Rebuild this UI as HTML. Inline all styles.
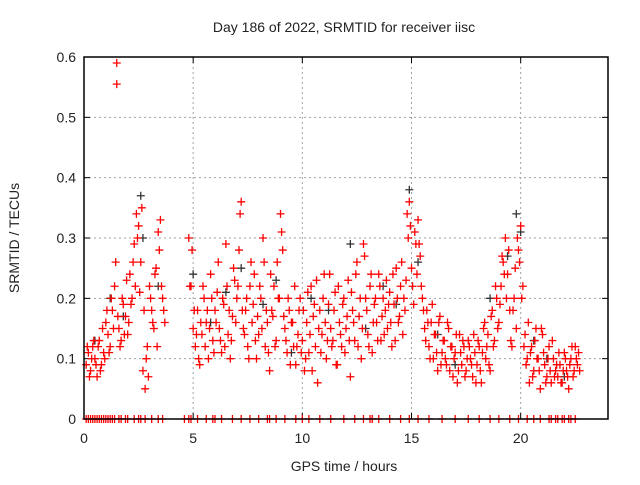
<!DOCTYPE html>
<html><head><meta charset="utf-8"><style>
body{margin:0;background:#fff}
svg text{font-family:"Liberation Sans",sans-serif;font-size:14px;fill:#222}
</style></head><body>
<svg id="chart" width="640" height="480" viewBox="0 0 640 480" xmlns="http://www.w3.org/2000/svg">
<rect width="640" height="480" fill="#fff"/>
<g id="grid"></g>
<g id="axes"></g>
<g id="zeros"></g>
<g id="black"></g>
<g id="red"></g>
<rect x="84" y="57" width="524" height="362" fill="none" stroke="#000" stroke-width="1.5"/>
<text x="344" y="32" text-anchor="middle">Day 186 of 2022, SRMTID for receiver iisc</text>
<text x="344" y="471" text-anchor="middle">GPS time / hours</text>
<text x="19" y="238" text-anchor="middle" transform="rotate(-90 19 238)">SRMTID / TECUs</text>
</svg>
<script>
const xTicks=[0,5,10,15,20];
const yTicks=[0,0.1,0.2,0.3,0.4,0.5,0.6];
const yTickLabels=["0","0.1","0.2","0.3","0.4","0.5","0.6"];
const redTimes=[0.1,0.2,0.3,0.4,0.5,0.6,0.7,0.8,0.9,1.0,1.1,1.2,1.3,1.4,1.5,1.5,1.6,1.7,1.8,1.9,2.0,2.1,2.2,2.3,2.4,2.5,2.6,2.7,2.8,2.9,3.0,3.1,3.2,3.3,3.4,3.5,3.6,3.7,
4.8,4.9,5.0,5.1,5.2,5.3,5.4,5.5,5.6,5.7,5.8,5.9,6.0,6.1,6.2,6.3,6.4,6.5,6.6,6.7,6.8,6.9,7.0,7.1,7.2,7.3,7.4,7.5,7.6,7.7,7.8,7.9,8.0,8.1,8.2,8.3,8.4,8.5,8.6,8.7,8.8,8.9,9.0,9.1,9.2,9.3,9.4,9.5,9.6,9.7,9.8,9.9,
10.0,10.1,10.2,10.3,10.4,10.5,10.6,10.7,10.8,10.9,11.0,11.1,11.2,11.3,11.4,11.5,11.6,11.7,11.8,11.9,12.0,12.1,12.2,12.3,12.4,12.5,12.6,12.7,12.8,12.9,13.0,13.1,13.2,13.3,13.4,13.5,13.6,13.7,13.8,13.9,
14.0,14.1,14.2,14.3,14.4,14.5,14.6,14.7,14.8,14.9,15.0,15.1,15.2,15.3,15.4,15.5,15.6,15.7,15.8,15.9,16.0,16.1,16.2,16.3,16.4,16.5,16.6,16.7,16.8,16.9,17.0,17.1,17.2,17.3,17.4,17.5,17.6,17.7,17.8,17.9,
18.0,18.1,18.2,18.3,18.4,18.5,18.6,18.7,18.8,18.9,19.0,19.1,19.2,19.3,19.4,19.5,19.6,19.7,19.8,19.9,20.0,20.1,20.2,20.3,20.4,20.5,20.6,20.7,20.8,20.9,21.0,21.1,21.2,21.3,21.4,21.5,21.6,21.7,21.8,21.9,22.0,22.1,22.2,22.3,22.4,22.5,22.6,22.7];
const redValues=[0.09,0.11,0.08,0.12,0.10,0.07,0.13,0.09,0.11,0.16,0.14,0.12,0.18,0.22,0.59,0.555,0.15,0.13,0.19,0.17,0.14,0.24,0.2,0.29,0.34,0.32,0.26,0.08,0.05,0.12,0.22,0.18,0.15,0.25,0.31,0.33,0.2,0.16,
0.3,0.22,0.15,0.12,0.18,0.09,0.14,0.2,0.16,0.1,0.24,0.13,0.18,0.21,0.15,0.11,0.19,0.29,0.14,0.1,0.17,0.23,0.2,0.28,0.36,0.15,0.18,0.12,0.22,0.16,0.24,0.1,0.14,0.2,0.3,0.12,0.16,0.08,0.18,0.22,0.13,0.2,0.34,0.28,0.15,0.11,0.18,0.16,0.12,0.09,0.14,0.2,
0.13,0.08,0.16,0.11,0.22,0.17,0.12,0.06,0.18,0.14,0.24,0.1,0.19,0.15,0.13,0.21,0.09,0.16,0.12,0.2,0.15,0.23,0.07,0.18,0.13,0.26,0.17,0.1,0.29,0.2,0.14,0.22,0.11,0.19,0.16,0.24,0.13,0.2,0.18,0.15,
0.21,0.12,0.19,0.25,0.16,0.22,0.14,0.18,0.34,0.36,0.25,0.19,0.29,0.33,0.27,0.2,0.15,0.18,0.12,0.16,0.1,0.14,0.08,0.17,0.11,0.13,0.09,0.15,0.12,0.07,0.11,0.06,0.14,0.09,0.12,0.08,0.13,0.1,0.07,0.11,
0.09,0.12,0.06,0.15,0.1,0.14,0.08,0.18,0.13,0.2,0.16,0.22,0.26,0.3,0.24,0.18,0.12,0.2,0.15,0.28,0.32,0.22,0.14,0.1,0.06,0.12,0.08,0.15,0.1,0.05,0.14,0.09,0.07,0.12,0.06,0.1,0.08,0.07,0.09,0.06,0.11,0.08,0.05,0.1,0.07,0.12,0.09,0.08];
const redTimes2=[0.15,0.25,0.35,0.45,0.55,0.65,0.75,0.85,0.95,1.05,1.15,1.25,1.35,1.45,1.55,1.65,1.75,1.85,1.95,2.05,2.15,2.25,2.35,2.45,2.55,2.65,2.75,2.85,2.95,3.05,3.15,3.25,3.35,3.45,3.55,3.65,
4.85,4.95,5.05,5.15,5.25,5.35,5.45,5.55,5.65,5.75,5.85,5.95,6.05,6.15,6.25,6.35,6.45,6.55,6.65,6.75,6.85,6.95,7.05,7.15,7.25,7.35,7.45,7.55,7.65,7.75,7.85,7.95,8.05,8.15,8.25,8.35,8.45,8.55,8.65,8.75,8.85,8.95,9.05,9.15,9.25,9.35,9.45,9.55,9.65,9.75,9.85,9.95,
10.05,10.15,10.25,10.35,10.45,10.55,10.65,10.75,10.85,10.95,11.05,11.15,11.25,11.35,11.45,11.55,11.65,11.75,11.85,11.95,12.05,12.15,12.25,12.35,12.45,12.55,12.65,12.75,12.85,12.95,13.05,13.15,13.25,13.35,13.45,13.55,13.65,13.75,13.85,13.95,
14.05,14.15,14.25,14.35,14.45,14.55,14.65,14.75,14.85,14.95,15.05,15.15,15.25,15.35,15.45,15.55,15.65,15.75,15.85,15.95,16.05,16.15,16.25,16.35,16.45,16.55,16.65,16.75,16.85,16.95,17.05,17.15,17.25,17.35,17.45,17.55,17.65,17.75,17.85,17.95,
18.05,18.15,18.25,18.35,18.45,18.55,18.65,18.75,18.85,18.95,19.05,19.15,19.25,19.35,19.45,19.55,19.65,19.75,19.85,19.95,20.05,20.15,20.25,20.35,20.45,20.55,20.65,20.75,20.85,20.95,21.05,21.15,21.25,21.35,21.45,21.55,21.65,21.75,21.85,21.95,22.05,22.15,22.25,22.35,22.45,22.55,22.65];
const redValues2=[0.12,0.07,0.1,0.13,0.09,0.12,0.08,0.15,0.1,0.18,0.11,0.2,0.15,0.26,0.17,0.12,0.2,0.14,0.23,0.16,0.19,0.26,0.22,0.3,0.21,0.35,0.18,0.1,0.07,0.2,0.16,0.24,0.12,0.28,0.22,0.18,
0.22,0.28,0.18,0.14,0.1,0.16,0.22,0.12,0.18,0.15,0.2,0.11,0.16,0.26,0.13,0.2,0.12,0.22,0.18,0.13,0.25,0.16,0.22,0.34,0.18,0.14,0.2,0.1,0.26,0.19,0.13,0.17,0.22,0.15,0.26,0.18,0.11,0.24,0.17,0.12,0.26,0.2,0.31,0.17,0.13,0.2,0.09,0.16,0.22,0.12,0.18,0.11,
0.18,0.1,0.21,0.14,0.08,0.19,0.23,0.15,0.11,0.2,0.16,0.13,0.24,0.12,0.18,0.09,0.22,0.14,0.19,0.11,0.17,0.13,0.21,0.16,0.24,0.12,0.2,0.15,0.27,0.18,0.12,0.24,0.16,0.2,0.13,0.22,0.17,0.14,0.23,0.19,
0.16,0.24,0.13,0.2,0.17,0.26,0.2,0.23,0.3,0.32,0.22,0.31,0.24,0.29,0.22,0.18,0.13,0.16,0.1,0.19,0.14,0.11,0.16,0.09,0.13,0.1,0.16,0.08,0.12,0.1,0.14,0.08,0.11,0.13,0.07,0.1,0.12,0.09,0.14,0.06,
0.13,0.08,0.11,0.16,0.12,0.09,0.17,0.12,0.22,0.15,0.19,0.27,0.24,0.2,0.28,0.13,0.18,0.25,0.3,0.26,0.2,0.12,0.09,0.16,0.11,0.07,0.13,0.1,0.08,0.15,0.11,0.06,0.1,0.08,0.13,0.07,0.09,0.11,0.06,0.08,0.1,0.07,0.09,0.12,0.08,0.1,0.11];
const blackTimes=[0.5,1.2,1.8,2.6,2.7,3.4,5.0,5.8,6.5,7.2,8.2,8.8,9.5,10.4,11.2,12.2,12.9,13.7,14.3,14.9,15.3,16.2,17.0,18.6,19.4,19.8,20.0,20.6,21.2,22.0];
const blackValues=[0.13,0.2,0.17,0.37,0.3,0.22,0.24,0.16,0.21,0.25,0.19,0.23,0.11,0.2,0.18,0.29,0.15,0.22,0.19,0.38,0.26,0.14,0.09,0.2,0.27,0.34,0.31,0.13,0.1,0.07];
const zeroTimes=[0.1,0.2,0.3,0.4,0.5,0.6,0.7,0.8,0.9,1.0,1.1,1.2,1.3,1.4,1.6,1.7,1.9,2.0,2.3,2.5,2.6,2.8,3.1,3.4,3.6,4.6,4.8,4.9,5.2,5.6,5.9,6.0,6.3,6.8,7.2,7.6,8.0,8.4,8.5,8.8,9.2,9.7,10.0,10.3,10.8,11.3,11.9,12.4,12.8,13.1,13.2,13.5,14.0,14.5,14.9,15.3,15.8,16.4,17.0,17.6,18.1,18.6,19.0,19.5,19.9,20.3,20.6,20.9,21.3,21.4,21.6,21.7,21.9,22.0,22.2,22.3,22.5];
const ns='http://www.w3.org/2000/svg';
const X0=84,X1=608,Y0=419,Y1=57,XMAX=24,YMAX=0.6;
function sx(t){return X0+(X1-X0)*t/XMAX}
function sy(v){return Y0-(Y0-Y1)*v/YMAX}
function mk(tag,attrs,parent){const e=document.createElementNS(ns,tag);for(const k in attrs)e.setAttribute(k,attrs[k]);parent.appendChild(e);return e}
const grid=document.getElementById('grid'),axes=document.getElementById('axes');
xTicks.forEach(t=>{
 const l=mk('line',{x1:sx(t),x2:sx(t),y1:Y1,y2:Y0,stroke:'#a0a0a0','stroke-dasharray':'2,3'},grid);
 
 
 mk('line',{x1:sx(t),x2:sx(t),y1:Y0,y2:Y0-6,stroke:'#000'},axes);
 mk('line',{x1:sx(t),x2:sx(t),y1:Y1,y2:Y1+6,stroke:'#000'},axes);
 const tx=mk('text',{x:sx(t),y:Y0+24,'text-anchor':'middle'},axes);tx.textContent=t;
 
 
});
yTicks.forEach((v,i)=>{
 const l=mk('line',{x1:X0,x2:X1,y1:sy(v),y2:sy(v),stroke:'#a0a0a0','stroke-dasharray':'2,3'},grid);
 
 
 mk('line',{x1:X0,x2:X0+6,y1:sy(v),y2:sy(v),stroke:'#000'},axes);
 mk('line',{x1:X1,x2:X1-6,y1:sy(v),y2:sy(v),stroke:'#000'},axes);
 const tx=mk('text',{x:X0-8,y:sy(v)+5,'text-anchor':'end'},axes);tx.textContent=yTickLabels[i];
 
 
});
function plus(g,t,v,c){
 const x=sx(t),y=sy(v);
 return mk('path',{d:`M${x-4} ${y}H${x+4}M${x} ${y-4}V${y+4}`,stroke:c,'stroke-width':1.3,fill:'none'},g);
}
const bg=document.getElementById('black');
blackTimes.forEach((t,i)=>{const p=plus(bg,t,blackValues[i],'#333');
 
 });
const rg=document.getElementById('red');
redTimes.forEach((t,i)=>{const p=plus(rg,t,redValues[i],'#f00');
 
 });
redTimes2.forEach((t,i)=>{const p=plus(rg,t,redValues2[i],'#f00');
 
 });
const zg=document.getElementById('zeros');
zeroTimes.forEach(t=>{const p=plus(zg,t,0,'#f00');
 
 });
</script>
</body></html>
